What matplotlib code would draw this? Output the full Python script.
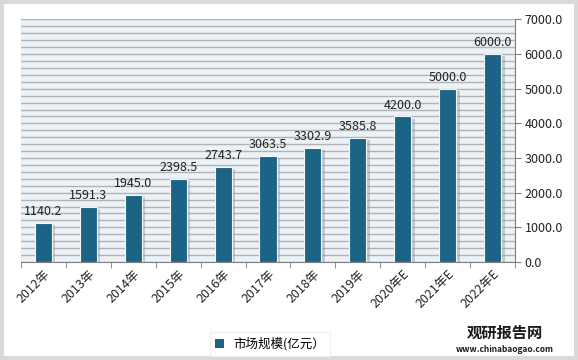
import matplotlib.pyplot as plt
import matplotlib.patheffects as pe
from matplotlib.patches import Rectangle, Patch
import numpy as np

plt.rcParams['font.family'] = ['Noto Sans CJK SC', 'DejaVu Sans']

years = ['2012年', '2013年', '2014年', '2015年', '2016年', '2017年',
         '2018年', '2019年', '2020年E', '2021年E', '2022年E']
market_size = [1140.2, 1591.3, 1945.0, 2398.5, 2743.7, 3063.5,
               3302.9, 3585.8, 4200.0, 5000.0, 6000.0]

bar_color = '#1b6485'

fig = plt.figure(figsize=(5.78, 3.6), dpi=100)
fig.patch.set_facecolor('#d9d9d9')
fig.patches.append(Rectangle((4 / 578, 4 / 360), 570 / 578, 352 / 360,
                             transform=fig.transFigure, facecolor='white',
                             edgecolor='none', zorder=-10))

ax = fig.add_axes([21 / 578, 1 - 262 / 360, 494 / 578, 242.5 / 360])
ax.set_facecolor('#ebf2f8')

x = np.arange(len(years))
bars = ax.bar(x, market_size, width=0.38, color=bar_color, edgecolor='#f4f8fb',
              linewidth=0.8, zorder=3)
for b in bars:
    b.set_path_effects([pe.SimplePatchShadow(offset=(2.5, -1.5), shadow_rgbFace='#8c8c8c', alpha=0.4),
                        pe.Normal()])

for xi, v in zip(x, market_size):
    ax.text(xi, v + 140, f'{v:.1f}', ha='center', va='bottom', fontsize=9,
            color='#222222', zorder=4)

ax.set_xlim(-0.5, len(years) - 0.5)
ax.set_ylim(0, 7000)
ax.set_yticks(np.arange(0, 7001, 1000))
ax.set_yticklabels([f'{v:.1f}' for v in np.arange(0, 7001, 1000)])
ax.set_yticks(np.arange(0, 7001, 200), minor=True)
ax.yaxis.tick_right()
ax.grid(True, axis='y', which='both', color='#b3b3b3', linewidth=1.0, zorder=1)
ax.tick_params(axis='y', which='major', labelsize=9, length=4, color='#7f7f7f',
               labelcolor='#222222', pad=3)
ax.tick_params(axis='y', which='minor', length=0)

ax.set_xticks(x)
ax.set_xticklabels(years, rotation=45, ha='right', rotation_mode='anchor', fontsize=9,
                   color='#222222')
ax.set_xticks(np.arange(-0.5, len(years), 1), minor=True)
ax.tick_params(axis='x', which='major', length=0, pad=4)
ax.tick_params(axis='x', which='minor', length=4, color='#7f7f7f')

for s in ['top', 'left']:
    ax.spines[s].set_visible(False)
ax.spines['right'].set_color('#7f7f7f')
ax.spines['bottom'].set_color('#7f7f7f')

fig.legend([Patch(facecolor=bar_color)], ['市场规模(亿元）'], loc='center',
           bbox_to_anchor=(270 / 578, 1 - 344 / 360),
           frameon=True, fontsize=9, handlelength=0.7, handleheight=0.7,
           fancybox=False, edgecolor='#eeeeee', facecolor='white')

fig.text(505 / 578, 1 - 333 / 360, '观研报告网', fontsize=11, fontweight='bold',
         color='#1a1a1a', ha='center', va='center')
fig.text(505 / 578, 1 - 349 / 360, 'www.chinabaogao.com', fontsize=6, fontweight='bold',
         color='#1a1a1a', ha='center', va='center')

plt.savefig('out.png', dpi=100, facecolor=fig.get_facecolor())
